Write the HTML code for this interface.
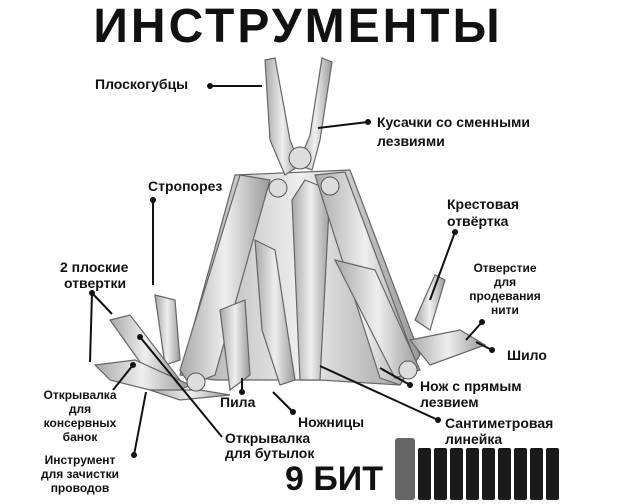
<!DOCTYPE html>
<html><head><meta charset="utf-8"><style>
body{margin:0;background:#fff;}
svg{display:block}
text{font-family:"Liberation Sans",sans-serif;fill:#111;}
</style></head><body>
<svg width="617" height="504" viewBox="0 0 617 504" xmlns="http://www.w3.org/2000/svg">
<defs>
<linearGradient id="m" x1="0" x2="1"><stop offset="0" stop-color="#a8a8a8"/><stop offset=".5" stop-color="#eeeeee"/><stop offset="1" stop-color="#9a9a9a"/></linearGradient>
</defs>
<text x="298" y="42" text-anchor="middle" font-size="48" font-weight="900" letter-spacing="3">ИНСТРУМЕНТЫ</text>
<!-- tool -->
<g fill="url(#m)" stroke="#666" stroke-width="1.2">
<polygon points="235,175 350,170 420,355 400,385 320,380 215,380 180,375"/>
<polygon points="265,60 275,58 290,140 300,165 285,175 270,140"/>
<polygon points="322,58 332,62 320,140 312,170 298,165 310,135"/>
<polygon points="305,180 330,190 320,380 300,380 292,200"/>
<polygon points="240,175 270,180 215,375 190,385 180,370"/>
<polygon points="315,175 345,172 415,360 400,385 380,378"/>
<polygon points="255,240 275,250 295,380 280,385 262,330"/>
<polygon points="220,310 245,300 250,375 230,390"/>
<polygon points="335,260 375,270 420,370 395,378"/>
<polygon points="410,340 460,330 485,345 430,365"/>
<polygon points="415,320 435,275 445,280 430,330"/>
<polygon points="155,295 175,300 180,360 165,365"/>
<polygon points="110,320 130,315 180,380 160,390"/>
<polygon points="95,365 135,360 190,385 170,395 110,380"/>
<polygon points="150,390 200,390 230,395 180,400"/>
</g>
<circle cx="300" cy="158" r="11" fill="#ddd" stroke="#555"/>
<circle cx="278" cy="188" r="9" fill="#ddd" stroke="#555"/>
<circle cx="330" cy="186" r="9" fill="#ddd" stroke="#555"/>
<circle cx="196" cy="382" r="9" fill="#ddd" stroke="#555"/>
<circle cx="408" cy="370" r="9" fill="#ddd" stroke="#555"/>
<!-- bits -->
<g fill="#1a1a1a">
<rect x="395" y="438" width="20" height="62" rx="3" fill="#666"/>
<rect x="418" y="448" width="13" height="52" rx="2"/><rect x="434" y="448" width="13" height="52" rx="2"/>
<rect x="450" y="448" width="13" height="52" rx="2"/><rect x="466" y="448" width="13" height="52" rx="2"/>
<rect x="482" y="448" width="13" height="52" rx="2"/><rect x="498" y="448" width="13" height="52" rx="2"/>
<rect x="514" y="448" width="13" height="52" rx="2"/><rect x="530" y="448" width="13" height="52" rx="2"/>
<rect x="546" y="448" width="13" height="52" rx="2"/>
</g>
<!-- lines -->
<g stroke="#111" stroke-width="2" fill="none">
<line x1="210" y1="86" x2="262" y2="86"/>
<line x1="318" y1="128" x2="368" y2="122"/>
<line x1="153" y1="200" x2="153" y2="285"/>
<line x1="455" y1="232" x2="430" y2="300"/>
<line x1="92" y1="293" x2="90" y2="362"/><line x1="92" y1="293" x2="112" y2="314"/>
<line x1="482" y1="322" x2="466" y2="340"/>
<line x1="492" y1="350" x2="476" y2="342"/>
<line x1="133" y1="365" x2="113" y2="390"/>
<line x1="242" y1="378" x2="242" y2="392"/>
<line x1="273" y1="392" x2="293" y2="412"/>
<line x1="380" y1="368" x2="410" y2="385"/>
<line x1="320" y1="366" x2="438" y2="420"/>
<line x1="140" y1="337" x2="222" y2="437"/>
<line x1="134" y1="455" x2="146" y2="392"/>
</g>
<g fill="#111">
<circle cx="210" cy="86" r="3"/><circle cx="368" cy="122" r="3"/><circle cx="153" cy="200" r="3"/>
<circle cx="455" cy="232" r="3"/><circle cx="92" cy="293" r="3"/><circle cx="482" cy="322" r="3"/>
<circle cx="492" cy="350" r="3"/><circle cx="133" cy="365" r="3"/><circle cx="242" cy="392" r="3"/>
<circle cx="293" cy="412" r="3"/><circle cx="410" cy="385" r="3"/><circle cx="438" cy="420" r="3"/>
<circle cx="140" cy="337" r="3"/><circle cx="134" cy="455" r="3"/>
</g>
<!-- labels -->
<g font-size="14" font-weight="bold">
<text x="95" y="89">Плоскогубцы</text>
<text x="377" y="127">Кусачки со сменными</text>
<text x="377" y="146">лезвиями</text>
<text x="148" y="191">Стропорез</text>
<text x="447" y="209">Крестовая</text>
<text x="447" y="226">отвёртка</text>
<text x="60" y="272">2 плоские</text>
<text x="64" y="288">отвертки</text>
<text x="507" y="360">Шило</text>
<text x="220" y="407">Пила</text>
<text x="298" y="427">Ножницы</text>
<text x="420" y="391">Нож с прямым</text>
<text x="420" y="407">лезвием</text>
<text x="445" y="428">Сантиметровая</text>
<text x="445" y="444">линейка</text>
<text x="225" y="443">Открывалка</text>
<text x="225" y="458">для бутылок</text>
</g>
<g font-size="12" font-weight="bold" text-anchor="middle">
<text x="505" y="272">Отверстие</text><text x="505" y="286">для</text><text x="505" y="300">продевания</text><text x="505" y="314">нити</text>
<text x="80" y="399">Открывалка</text><text x="80" y="413">для</text><text x="80" y="427">консервных</text><text x="80" y="441">банок</text>
<text x="80" y="464">Инструмент</text><text x="80" y="478">для зачистки</text><text x="80" y="492">проводов</text>
</g>
<text x="285" y="490" font-size="34" font-weight="900">9 БИТ</text>
</svg>
</body></html>
